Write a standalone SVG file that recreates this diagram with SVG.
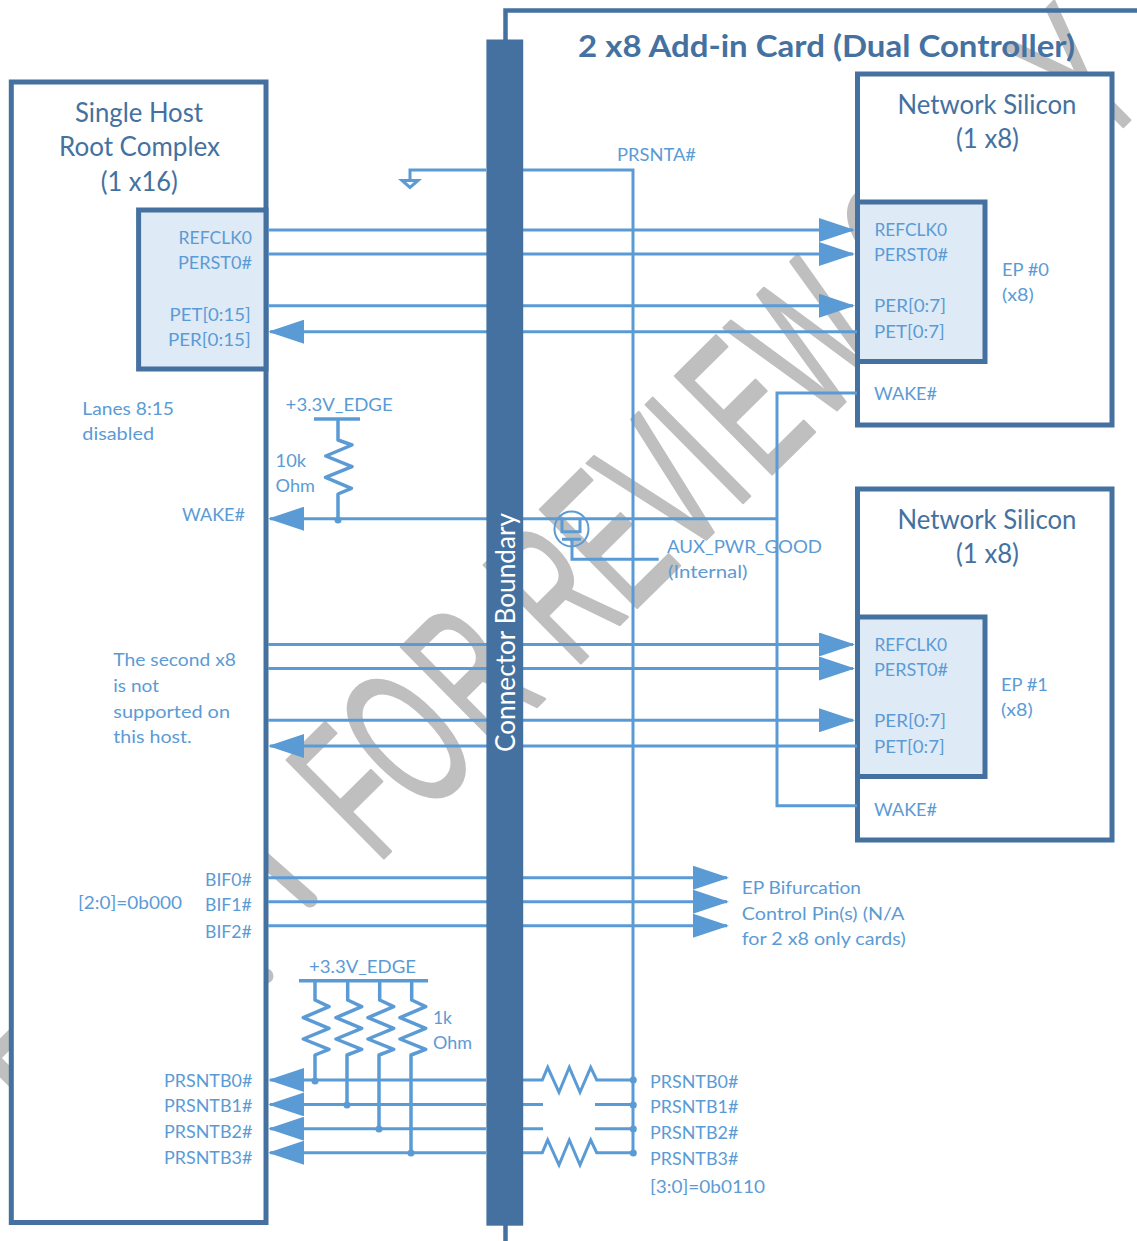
<svg xmlns="http://www.w3.org/2000/svg" width="1137" height="1241" viewBox="0 0 1137 1241">
<style>
text{font-family:Lato,"Liberation Sans",sans-serif}
.l{fill:#5B9BD5;font-size:18px}
.d{fill:#44719F;font-size:26px}
.t{fill:#44719F;font-size:30px;font-weight:700}
.w{fill:#BFBFBF;stroke:#BFBFBF;stroke-width:3;stroke-linejoin:round;font-size:200px;font-family:"Liberation Sans",sans-serif}
.wl{fill:none;stroke:#BFBFBF;stroke-width:15;stroke-linecap:round;stroke-linejoin:round}
.b{fill:#fff;stroke:#44719F;stroke-width:5}
.p{fill:#DEEAF6;stroke:#44719F;stroke-width:5}
.c{fill:none;stroke:#5B9BD5;stroke-width:3}
.s{fill:none;stroke:#5B9BD5;stroke-width:3.5;stroke-linejoin:round}
.dot{fill:#5B9BD5}
</style>
<defs>
<marker id="ah" markerUnits="userSpaceOnUse" viewBox="0 0 36 24" refX="34" refY="12" markerWidth="36" markerHeight="24" orient="auto"><path d="M0,0L36,12L0,24Z" fill="#5B9BD5"/></marker>
</defs>
<g id="watermark">
<text class="w" transform="translate(387,855) rotate(-44.7) scale(.56,1)" x="-25 93 262 0 470 611 744 875 950 1088 0 1350 1512 1702 1791">FOR REVIEW ONLY</text>
<path class="wl" d="M240,838L310,900"/>
<path class="wl" d="M20,1029L-8.600,1058L20,1087"/>
<path class="wl" d="M255,975L266,976"/>
</g>
<g id="card"><path d="M505.500,1241V10.500H1137" fill="none" stroke="#44719F" stroke-width="4.500"/>
<text class="t" x="578" y="56.700" textLength="497" lengthAdjust="spacingAndGlyphs">2 x8 Add-in Card (Dual Controller)</text></g>
<g id="host">
<rect class="b" x="11.300" y="82" width="254.700" height="1140.500"/>
<text class="d" x="75" y="121.700" textLength="128" lengthAdjust="spacingAndGlyphs">Single Host</text>
<text class="d" x="59" y="155.700" textLength="161" lengthAdjust="spacingAndGlyphs">Root Complex</text>
<text class="d" x="100.700" y="190.500" textLength="77" lengthAdjust="spacingAndGlyphs">(1 x16)</text>
<text class="l" x="82.300" y="415" textLength="91.700" lengthAdjust="spacingAndGlyphs">Lanes 8:15</text>
<text class="l" x="82.300" y="440" textLength="71.700" lengthAdjust="spacingAndGlyphs">disabled</text>
<text class="l" x="182" y="520.800" textLength="63" lengthAdjust="spacingAndGlyphs">WAKE#</text>
<text class="l" x="113.300" y="666" textLength="122.700" lengthAdjust="spacingAndGlyphs">The second x8</text>
<text class="l" x="113.300" y="692" textLength="45.700" lengthAdjust="spacingAndGlyphs">is not</text>
<text class="l" x="113.300" y="717.500" textLength="116.700" lengthAdjust="spacingAndGlyphs">supported on</text>
<text class="l" x="113.300" y="742.800" textLength="78.400" lengthAdjust="spacingAndGlyphs">this host.</text>
<text class="l" x="78" y="909" textLength="104" lengthAdjust="spacingAndGlyphs">[2:0]=0b000</text>
<text class="l" x="205" y="886" textLength="46.700" lengthAdjust="spacingAndGlyphs">BIF0#</text>
<text class="l" x="205" y="911" textLength="46.700" lengthAdjust="spacingAndGlyphs">BIF1#</text>
<text class="l" x="205" y="937.600" textLength="46.700" lengthAdjust="spacingAndGlyphs">BIF2#</text>
<text class="l" x="164" y="1086.700" textLength="88.300" lengthAdjust="spacingAndGlyphs">PRSNTB0#</text>
<text class="l" x="164" y="1112.300" textLength="88.300" lengthAdjust="spacingAndGlyphs">PRSNTB1#</text>
<text class="l" x="164" y="1138.300" textLength="88.300" lengthAdjust="spacingAndGlyphs">PRSNTB2#</text>
<text class="l" x="164" y="1163.700" textLength="88.300" lengthAdjust="spacingAndGlyphs">PRSNTB3#</text>
</g>
<g id="host-port">
<rect class="p" x="138.600" y="210" width="127.400" height="159"/>
<text class="l" x="178.600" y="244" textLength="73.400" lengthAdjust="spacingAndGlyphs">REFCLK0</text>
<text class="l" x="177.900" y="268.700" textLength="74.100" lengthAdjust="spacingAndGlyphs">PERST0#</text>
<text class="l" x="169.600" y="321" textLength="81.100" lengthAdjust="spacingAndGlyphs">PET[0:15]</text>
<text class="l" x="168" y="345.700" textLength="82.700" lengthAdjust="spacingAndGlyphs">PER[0:15]</text>
</g>
<g id="network0">
<rect class="b" x="857.500" y="74" width="254.500" height="351"/>
<text class="d" x="897.600" y="114" textLength="178.800" lengthAdjust="spacingAndGlyphs">Network Silicon</text>
<text class="d" x="956" y="147.700" textLength="63" lengthAdjust="spacingAndGlyphs">(1 x8)</text>
<rect class="p" x="857.500" y="202" width="127.500" height="159.500"/>
<text class="l" x="874.400" y="236" textLength="72.600" lengthAdjust="spacingAndGlyphs">REFCLK0</text>
<text class="l" x="874" y="261" textLength="74" lengthAdjust="spacingAndGlyphs">PERST0#</text>
<text class="l" x="874" y="312" textLength="72" lengthAdjust="spacingAndGlyphs">PER[0:7]</text>
<text class="l" x="874" y="337.700" textLength="70.700" lengthAdjust="spacingAndGlyphs">PET[0:7]</text>
<text class="l" x="1002" y="276" textLength="47" lengthAdjust="spacingAndGlyphs">EP #0</text>
<text class="l" x="1002" y="301" textLength="31.700" lengthAdjust="spacingAndGlyphs">(x8)</text>
<text class="l" x="874" y="400" textLength="63" lengthAdjust="spacingAndGlyphs">WAKE#</text>
</g>
<g id="network1">
<rect class="b" x="857.500" y="489" width="254.500" height="351"/>
<text class="d" x="897.600" y="529" textLength="178.800" lengthAdjust="spacingAndGlyphs">Network Silicon</text>
<text class="d" x="956" y="562.700" textLength="63" lengthAdjust="spacingAndGlyphs">(1 x8)</text>
<rect class="p" x="857.500" y="617" width="127.500" height="159.500"/>
<text class="l" x="874.400" y="651" textLength="72.600" lengthAdjust="spacingAndGlyphs">REFCLK0</text>
<text class="l" x="874" y="676" textLength="74" lengthAdjust="spacingAndGlyphs">PERST0#</text>
<text class="l" x="874" y="727" textLength="72" lengthAdjust="spacingAndGlyphs">PER[0:7]</text>
<text class="l" x="874" y="752.700" textLength="70.700" lengthAdjust="spacingAndGlyphs">PET[0:7]</text>
<text class="l" x="1001" y="691" textLength="47" lengthAdjust="spacingAndGlyphs">EP #1</text>
<text class="l" x="1001" y="716" textLength="31.700" lengthAdjust="spacingAndGlyphs">(x8)</text>
<text class="l" x="874" y="815.700" textLength="63" lengthAdjust="spacingAndGlyphs">WAKE#</text>
</g>
<g id="connectors">
<path class="c" d="M268,230H853" marker-end="url(#ah)"/>
<path class="c" d="M268,254H853" marker-end="url(#ah)"/>
<path class="c" d="M268,305.700H853" marker-end="url(#ah)"/>
<path class="c" d="M857,331.700H270" marker-end="url(#ah)"/>
<path class="c" d="M268,644.500H853" marker-end="url(#ah)"/>
<path class="c" d="M268,668.500H853" marker-end="url(#ah)"/>
<path class="c" d="M268,720.300H853" marker-end="url(#ah)"/>
<path class="c" d="M857,746H270" marker-end="url(#ah)"/>
<path class="c" d="M268,877.700H727" marker-end="url(#ah)"/>
<path class="c" d="M268,901.700H727" marker-end="url(#ah)"/>
<path class="c" d="M268,925.700H727" marker-end="url(#ah)"/>
<path class="c" d="M523,170H633V1153M486,170H410V180"/>
<path class="c" d="M402,180.500H418L410,187.500Z"/>
<path class="c" d="M857,393H777V805.700H857"/>
<path class="c" d="M777,518.700H270" marker-end="url(#ah)"/>
<path class="s" d="M338,419V440L352,445L325.800,456L352,466.700L325.500,477.300L351.400,488.300L338,494V519"/>
<path class="s" d="M314,419H360"/>
<circle class="dot" cx="338" cy="520" r="3.500"/>
<ellipse cx="571.500" cy="529" rx="17" ry="17.500" fill="none" stroke="#5B9BD5" stroke-width="2"/>
<path class="c" d="M562,519V531.700H580V519M562,539.300H581M572,539.300V559.300H658.700"/>
<path class="c" d="M303,1080H486M523,1080H542.300L547.700,1067.300L559,1092.300L569.300,1067.300L580,1092.300L590.700,1067.300L596.700,1080H633"/>
<path class="c" d="M303,1104.400H486M523,1104.400H543M595,1104.400H633"/>
<path class="c" d="M303,1128.700H486M523,1128.700H543M595,1128.700H633"/>
<path class="c" d="M303,1152.700H486M523,1152.700H542.300L547.700,1140L559,1165L569.300,1140L580,1165L590.700,1140L596.700,1152.700H633"/>
<path class="c" d="M303,1080H270" marker-end="url(#ah)"/>
<path class="c" d="M303,1104.400H270" marker-end="url(#ah)"/>
<path class="c" d="M303,1128.700H270" marker-end="url(#ah)"/>
<path class="c" d="M303,1152.700H270" marker-end="url(#ah)"/>
<path class="s" d="M299,980.700H428"/>
<path class="s" d="M315,980.700V1000L329,1006.700L303.300,1017.700L329,1028.300L303.300,1039L329,1049.300L315,1055V1080"/>
<path class="s" d="M347.700,980.700V1000L361.700,1006.700L336,1017.700L361.700,1028.300L336,1039L361.700,1049.300L347,1055V1104"/>
<path class="s" d="M379.700,980.700V1000L393.700,1006.700L368,1017.700L393.700,1028.300L368,1039L393.700,1049.300L379,1055V1128"/>
<path class="s" d="M411.700,980.700V1000L425.700,1006.700L400,1017.700L425.700,1028.300L400,1039L425.700,1049.300L411,1055V1152"/>
<g class="dot"><circle cx="315" cy="1081" r="3.500"/><circle cx="347" cy="1105" r="3.500"/><circle cx="379" cy="1129" r="3.500"/><circle cx="411" cy="1153" r="3.500"/><circle cx="633.300" cy="1080" r="3.500"/><circle cx="633.300" cy="1105" r="3.500"/><circle cx="633.300" cy="1129" r="3.500"/><circle cx="633.300" cy="1153" r="3.500"/></g>
<text class="l" x="617" y="161" textLength="79" lengthAdjust="spacingAndGlyphs">PRSNTA#</text>
<text class="l" x="285.600" y="410.700" textLength="107.100" lengthAdjust="spacingAndGlyphs">+3.3V_EDGE</text>
<text class="l" x="275.600" y="467" textLength="30.400" lengthAdjust="spacingAndGlyphs">10k</text>
<text class="l" x="275.600" y="491.700" textLength="39.400" lengthAdjust="spacingAndGlyphs">Ohm</text>
<text class="l" x="309" y="972.700" textLength="107" lengthAdjust="spacingAndGlyphs">+3.3V_EDGE</text>
<text class="l" x="433" y="1024" textLength="19" lengthAdjust="spacingAndGlyphs">1k</text>
<text class="l" x="433" y="1048.700" textLength="39" lengthAdjust="spacingAndGlyphs">Ohm</text>
<text class="l" x="667" y="553.300" textLength="155" lengthAdjust="spacingAndGlyphs">AUX_PWR_GOOD</text>
<text class="l" x="668" y="578" textLength="79.500" lengthAdjust="spacingAndGlyphs">(Internal)</text>
<text class="l" x="741.700" y="894" textLength="119.300" lengthAdjust="spacingAndGlyphs">EP Bifurcation</text>
<text class="l" x="741.700" y="920" textLength="162.600" lengthAdjust="spacingAndGlyphs">Control Pin(s) (N/A</text>
<text class="l" x="741.700" y="945" textLength="164" lengthAdjust="spacingAndGlyphs">for 2 x8 only cards)</text>
<text class="l" x="650" y="1087.700" textLength="88.300" lengthAdjust="spacingAndGlyphs">PRSNTB0#</text>
<text class="l" x="650" y="1112.700" textLength="88.300" lengthAdjust="spacingAndGlyphs">PRSNTB1#</text>
<text class="l" x="650" y="1139" textLength="88.300" lengthAdjust="spacingAndGlyphs">PRSNTB2#</text>
<text class="l" x="650" y="1165" textLength="88.300" lengthAdjust="spacingAndGlyphs">PRSNTB3#</text>
<text class="l" x="650" y="1193.300" textLength="115" lengthAdjust="spacingAndGlyphs">[3:0]=0b0110</text>
</g>
<g id="connector-boundary">
<rect x="486.400" y="39.500" width="36.800" height="1186.200" fill="#44719F"/>
<text transform="translate(515,752) rotate(-90)" fill="#fff" font-size="27" textLength="239" lengthAdjust="spacingAndGlyphs">Connector Boundary</text>
</g>
</svg>
